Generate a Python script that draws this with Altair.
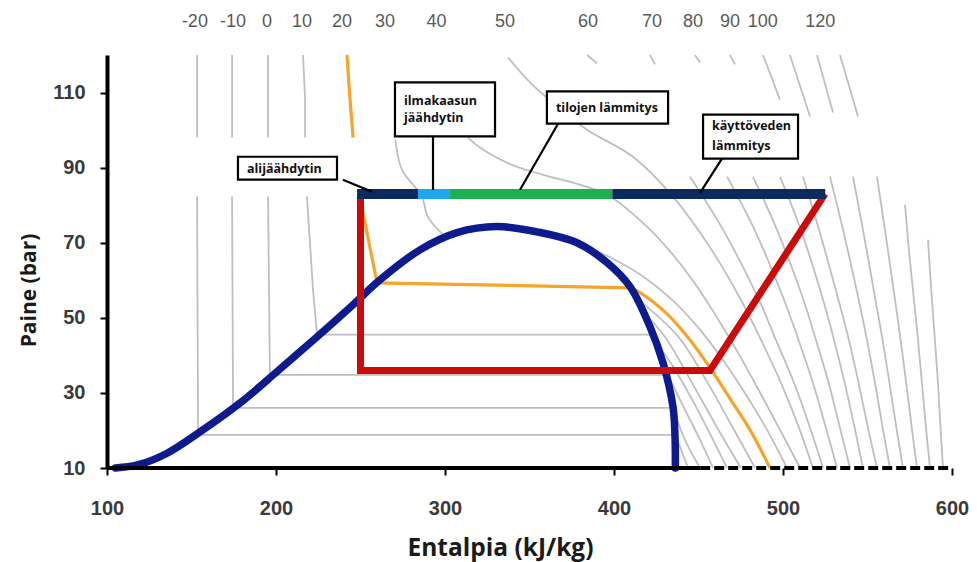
import altair as alt
import pandas as pd

# ---------------------------------------------------------------------------
# Axis ranges and ticks
# ---------------------------------------------------------------------------
H_DOMAIN = [100, 600]          # enthalpy, kJ/kg
P_DOMAIN = [10, 120]           # pressure, bar
h_ticks = [100, 200, 300, 400, 500, 600]
p_ticks = [10, 30, 50, 70, 90, 110]

# Isotherm temperatures written along the top edge, at the enthalpy where
# each isotherm leaves the top of the diagram
iso_top_h = [152, 174.6, 194.7, 215.4, 239, 264.5, 295, 335.5, 384.6,
             422.5, 446.7, 468.6, 488, 522]
iso_top_t = ["-20", "-10", "0", "10", "20", "30", "40", "50", "60",
             "70", "80", "90", "100", "120"]

# ---------------------------------------------------------------------------
# Saturation dome of CO2 (h, p)
# ---------------------------------------------------------------------------
dome = [(105, 10), (118, 10.8), (135, 13.8), (155, 19.6), (178.7, 27.3),
        (201.2, 35.9), (223.7, 44.7), (245.6, 53.5), (261.5, 60.1),
        (285.2, 68.1), (307.1, 72.7), (330.8, 74.3), (354.4, 72.9),
        (378.1, 70), (395.9, 64.7), (409.5, 58.3), (421.3, 47.6),
        (429, 38), (434.9, 26.3), (436.1, 18.3), (436.3, 10)]

# ---------------------------------------------------------------------------
# Isotherms, straight parts (liquid verticals and two-phase horizontals)
# ---------------------------------------------------------------------------
t_m20_upper = [(153.3, 120), (153.3, 98)]
t_m20_lower = [(153.3, 82.3), (153.9, 18.8), (436.1, 18.8)]
t_m10_upper = [(174, 120), (174, 98)]
t_m10_lower = [(174, 82.3), (174.6, 26), (434.9, 26)]
t_0_upper = [(195.3, 120), (195.3, 98)]
t_0_lower = [(195.3, 82.3), (196.4, 34.8), (431.9, 34.8)]
t_10_upper = [(216, 120), (217.2, 108.1), (217.2, 98)]
t_10_lower = [(218.3, 82.3), (221.9, 57.5), (224.3, 45.5), (421.3, 45.5)]
t_60_upper = [(384, 120), (389.9, 117.8)]
t_70_upper = [(421.3, 120), (424.3, 117.5)]
t_80_upper = [(447.9, 120), (450.9, 118)]
t_90_upper = [(468.6, 120), (471.6, 117.5)]
t_100_upper = [(488.2, 120), (498.2, 108.1)]
t_110_upper = [(504.1, 120), (516, 103.6)]
t_120_upper = [(520.1, 120), (529.6, 104.7)]
t_130_upper = [(533.7, 120), (544.4, 103.6)]

# ---------------------------------------------------------------------------
# Isotherms, curved parts (vapour and supercritical region)
# ---------------------------------------------------------------------------
t_m20_vap = [(436.1, 18.8), (440.2, 14.3), (443.8, 10)]
t_m10_vap = [(434.9, 26), (442, 17.5), (450.9, 10)]
t_0_vap = [(431.9, 34.8), (442, 25.5), (450.9, 17.5), (458.6, 10)]
t_10_vap = [(421.3, 45.5), (434.3, 37.5), (447.9, 26.8), (458.6, 17.5), (466.9, 10)]
vap_a = [(416.4, 52), (430, 45), (447, 32), (462, 20), (475.1, 10)]
vap_b = [(412.6, 55.5), (438, 45), (455, 33), (470, 21), (483.5, 10)]
t_30_liq = [(270.6, 97.5), (274.5, 89.5), (286.3, 82.3), (289.9, 76.9), (300, 71.6)]
t_30_vap = [(378.1, 70), (398.2, 66), (416.6, 61.2), (433.1, 55.3), (448.5, 48.1),
            (462.7, 39.9), (476.3, 30.8), (489.9, 20.7), (502.4, 10)]
t_40 = [(300, 108.1), (314.8, 97.5), (336.7, 91.3), (358, 88.1), (378.1, 85.7),
        (397.6, 82.3), (421.3, 73.5), (434.9, 66.8), (448, 59.1), (460.4, 50.5),
        (472.8, 41.2), (485.2, 31.1), (497.6, 20.7), (510.1, 10)]
t_50 = [(337.3, 119.3), (350.3, 112.7), (365.1, 106.8), (384, 100.1), (411.2, 92.9),
        (434.9, 82.3), (450.9, 72.7), (463.3, 64.1), (475.1, 54.8), (487, 44.1),
        (498.8, 32.7), (509.5, 20.7), (517.7, 10)]
t_60 = [(445, 87.6), (464.5, 73.5), (485.8, 54.8), (495.8, 44.1), (506.5, 32.7),
        (516, 20.7), (523.7, 10)]
t_70 = [(466.9, 87.6), (483.1, 73.5), (500.6, 54.8), (509.2, 44.1), (517.7, 32.7),
        (525.4, 20.7), (532, 10)]
t_80 = [(482.2, 87.6), (496.4, 73.5), (512.1, 54.8), (519.5, 44.1), (527, 32.7),
        (533.7, 20.7), (539.6, 10)]
t_90 = [(498.2, 87.6), (510.5, 73.5), (523.7, 54.8), (530.2, 44.1), (536.5, 32.7),
        (542.4, 20.7), (547.3, 10)]
t_100 = [(511.8, 87.6), (521.3, 73.5), (532.8, 54.8), (539, 44.1), (544.7, 32.7),
         (550.3, 20.7), (555.6, 10)]
t_110 = [(527.8, 87.6), (535.5, 73.5), (544.8, 54.8), (549.7, 44.1), (554.4, 32.7),
         (559, 20.7), (563.3, 10)]
t_120 = [(541.4, 87.6), (547.3, 73.5), (554.7, 54.8), (558.9, 44.1), (563, 32.7),
         (567.1, 20.7), (571, 10)]
t_130 = [(555.6, 87.6), (560.3, 73.5), (566.3, 54.8), (569.6, 44.1), (572.9, 32.7),
         (576.2, 20.7), (579.3, 10)]
t_140 = [(572.2, 80.1), (574.5, 68.1), (577.5, 54.8), (579.9, 44.1), (582.2, 32.7),
         (584.6, 20.7), (587, 10)]
t_150 = [(585.8, 70.8), (588.1, 54.8), (589.9, 44.1), (591.7, 32.7), (593.2, 20.7),
         (594.7, 10)]

# The 20 °C isotherm, highlighted
t_20_upper = [(242, 120), (243.5, 110), (245.6, 98)]
t_20_lower = [(249.7, 82), (259.8, 59.3), (409.5, 58)]
t_20_vap = [(409.5, 58), (415.4, 56.7), (432, 50.8), (445, 44.1), (456.8, 36.7),
            (469.2, 28.1), (481.6, 19.3), (492.3, 10)]

# ---------------------------------------------------------------------------
# Heat-pump cycle
# ---------------------------------------------------------------------------
cycle_h = [250, 250, 456.8, 524.9]
cycle_p = [83, 36, 36, 83]

# Gas-cooler line at high pressure, split by heat use
bar_p = 83
bar_h0 = [248, 284, 303, 399]
bar_h1 = [284, 303, 399, 525]
bar_col = ["#0c2a5e", "#1ea7ea", "#1cb04e", "#0c2a5e"]

# Callout boxes (h0, h1, p0, p1), texts and leader lines
box_h0 = [177.5, 270.4, 360.3, 452.7]
box_h1 = [236.1, 329.6, 432.0, 508.9]
box_p0 = [86.8, 98.3, 101.7, 92.4]
box_p1 = [92.9, 112.7, 110.3, 104.1]
note_text = ["alijäähdytin", "ilmakaasun", "jäähdytin", "tilojen lämmitys",
             "käyttöveden", "lämmitys"]
note_h = [177.5, 270.4, 270.4, 360.3, 452.7, 452.7]
note_p = [89.6, 107.7, 103.1, 106.0, 101.1, 95.8]
lead_h0 = [239.6, 292.9, 366.9, 463.9]
lead_p0 = [86.8, 98.3, 101.7, 92.4]
lead_h1 = [256.8, 292.9, 344.4, 450.9]
lead_p1 = [83.6, 84.1, 84.1, 83.3]

# Bottom edge: solid under the dome, dashed in the vapour region
base_h0 = [100, 451]
base_h1 = [451, 600]
base_dash = ["solid", "dashed"]

# ---------------------------------------------------------------------------
# Tables
# ---------------------------------------------------------------------------
def trace_rows(traces):
    out = []
    for name, pts in traces:
        for i, (h, p) in enumerate(pts):
            out.append({"trace": name, "i": i, "h": h, "p": p})
    return pd.DataFrame(out)


straight_df = trace_rows([
    ("m20u", t_m20_upper), ("m20l", t_m20_lower), ("m10u", t_m10_upper),
    ("m10l", t_m10_lower), ("0u", t_0_upper), ("0l", t_0_lower),
    ("10u", t_10_upper), ("10l", t_10_lower), ("60u", t_60_upper),
    ("70u", t_70_upper), ("80u", t_80_upper), ("90u", t_90_upper),
    ("100u", t_100_upper), ("110u", t_110_upper), ("120u", t_120_upper),
    ("130u", t_130_upper),
])
curved_df = trace_rows([
    ("m20v", t_m20_vap), ("m10v", t_m10_vap), ("0v", t_0_vap), ("10v", t_10_vap),
    ("va", vap_a), ("vb", vap_b), ("30l", t_30_liq), ("30v", t_30_vap),
    ("40", t_40), ("50", t_50), ("60", t_60), ("70", t_70), ("80", t_80),
    ("90", t_90), ("100", t_100), ("110", t_110), ("120", t_120),
    ("130", t_130), ("140", t_140), ("150", t_150),
])
orange_straight_df = trace_rows([("u", t_20_upper), ("l", t_20_lower)])
orange_curved_df = trace_rows([("v", t_20_vap)])
dome_df = trace_rows([("dome", dome)])
cycle_df = pd.DataFrame({"h": cycle_h, "p": cycle_p, "i": range(len(cycle_h))})
bar_df = pd.DataFrame({"h": bar_h0, "h2": bar_h1, "p": bar_p, "col": bar_col})
box_df = pd.DataFrame({"h": box_h0, "h2": box_h1, "p": box_p0, "p2": box_p1})
note_df = pd.DataFrame({"txt": note_text, "h": note_h, "p": note_p})
lead_df = pd.DataFrame({"h": lead_h0, "p": lead_p0, "h2": lead_h1, "p2": lead_p1})
base_df = pd.DataFrame({"h": base_h0, "h2": base_h1, "p": 10, "style": base_dash})
top_df = pd.DataFrame({"h": iso_top_h, "t": iso_top_t})

# ---------------------------------------------------------------------------
# Shared scales and axes
# ---------------------------------------------------------------------------
xs = alt.Scale(domain=H_DOMAIN, nice=False, zero=False)
ys = alt.Scale(domain=P_DOMAIN, nice=False, zero=False)

x_axis = alt.Axis(
    values=h_ticks, domain=False, grid=False, labelFlush=False,
    tickColor="black", tickWidth=2, tickSize=7,
    labelFont="Liberation Sans", labelFontSize=20, labelFontWeight="bold",
    labelColor="#3a3a3a", labelPadding=23,
    title="Entalpia (kJ/kg)", titleFont="Open Sans", titleFontSize=24.5,
    titleFontWeight="bold", titleColor="#1a1a1a",
    titleX=393, titleY=80, titleAlign="center", titleBaseline="middle",
)
y_axis = alt.Axis(
    values=p_ticks, grid=False, labelFlush=False,
    domainColor="black", domainWidth=4,
    tickColor="black", tickWidth=2, tickSize=7,
    labelFont="Liberation Sans", labelFontSize=20, labelFontWeight="bold",
    labelColor="#3a3a3a", labelPadding=15,
    title="Paine (bar)", titleFont="Open Sans", titleFontSize=21,
    titleFontWeight="bold", titleColor="#1a1a1a", titleAngle=270,
    titleX=-78, titleY=235, titleAlign="center", titleBaseline="middle",
)

X = alt.X("h:Q", scale=xs, axis=x_axis)
Y = alt.Y("p:Q", scale=ys, axis=y_axis)
X2 = alt.X2("h2:Q")
Y2 = alt.Y2("p2:Q")

GRAY = "#bfbfbf"

gray_straight = alt.Chart(straight_df).mark_line(
    color=GRAY, strokeWidth=1.8
).encode(x=X, y=Y, detail="trace:N", order="i:Q")

gray_curved = alt.Chart(curved_df).mark_line(
    color=GRAY, strokeWidth=1.8, interpolate="catmull-rom"
).encode(x=X, y=Y, detail="trace:N", order="i:Q")

orange_a = alt.Chart(orange_straight_df).mark_line(
    color="#f5a42c", strokeWidth=3.2
).encode(x=X, y=Y, detail="trace:N", order="i:Q")

orange_b = alt.Chart(orange_curved_df).mark_line(
    color="#f5a42c", strokeWidth=3.2, interpolate="catmull-rom"
).encode(x=X, y=Y, order="i:Q")

dome_line = alt.Chart(dome_df).mark_line(
    color="#0d1b8e", strokeWidth=7.5, interpolate="catmull-rom", strokeCap="round"
).encode(x=X, y=Y, order="i:Q")

cycle_line = alt.Chart(cycle_df).mark_line(
    color="#cc0a0a", strokeWidth=7, strokeJoin="miter"
).encode(x=X, y=Y, order="i:Q")

bar = alt.Chart(bar_df).mark_rule(strokeWidth=10).encode(
    x=X, x2=X2, y=Y, color=alt.Color("col:N", scale=None)
)

base = alt.Chart(base_df).mark_rule(strokeWidth=4, color="black").encode(
    x=X, x2=X2, y=Y,
    strokeDash=alt.StrokeDash(
        "style:N",
        scale=alt.Scale(domain=["solid", "dashed"], range=[[1, 0], [10, 4]]),
        legend=None,
    ),
)

leads = alt.Chart(lead_df).mark_rule(strokeWidth=2.2, color="black").encode(
    x=X, y=Y, x2=X2, y2=Y2
)

boxes = alt.Chart(box_df).mark_rect(
    fill="white", stroke="black", strokeWidth=2.2
).encode(x=X, x2=X2, y=Y, y2=Y2)

notes = alt.Chart(note_df).mark_text(
    align="left", baseline="middle", dx=9, font="Open Sans",
    fontWeight="bold", fontSize=12.5, color="#111111"
).encode(x=X, y=Y, text="txt:N")

top_labels = alt.Chart(top_df).mark_text(
    baseline="middle", font="Liberation Sans", fontSize=18, color="#5a5a5a"
).encode(x=X, y=alt.value(-33), text="t:N")

chart = alt.layer(
    gray_straight, gray_curved, orange_a, orange_b, dome_line, cycle_line,
    bar, base, leads, boxes, notes, top_labels,
).properties(
    width=845, height=413,
    autosize=alt.AutoSizeParams(type="none"),
    padding={"left": 107, "top": 55, "right": 25, "bottom": 94},
    background="white",
).configure_view(stroke=None)

chart.save("out.html", embed_options={"renderer": "svg", "actions": False})
